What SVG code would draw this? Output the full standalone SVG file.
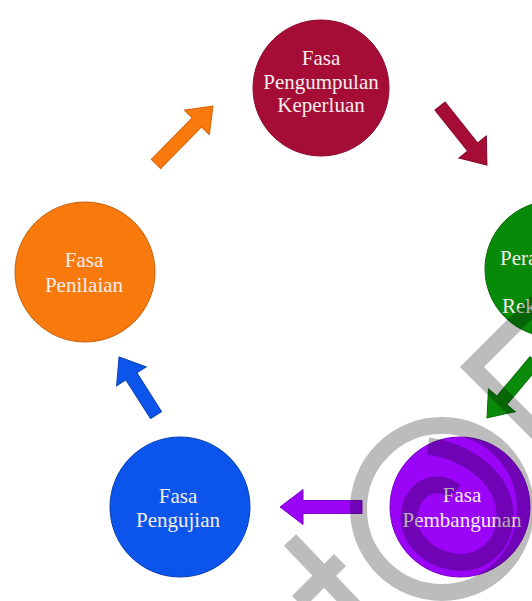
<svg xmlns="http://www.w3.org/2000/svg" width="532" height="601" viewBox="0 0 532 601">
<style>
.lbl{font-family:"Liberation Serif","Times New Roman",serif;font-size:21px;fill:#f6eeee;text-anchor:middle}
.lbs{font-family:"Liberation Serif","Times New Roman",serif;font-size:21px;fill:#f6eeee}
.arr{stroke-width:1;stroke-linejoin:miter}
.wm{fill:none;stroke:#000;stroke-width:17}
</style>
<rect width="532" height="601" fill="#ffffff"/>
<g id="connectors">
<path class="arr" fill="#f87a0c" stroke="#d8640a" transform="translate(156,164) rotate(-45.5)" d="M0,-6.5 H58.3 V-17.5 L81.3,0 L58.3,17.5 V6.5 H0 Z"/>
<path class="arr" fill="#a50d37" stroke="#880a2c" transform="translate(440,106) rotate(51.5)" d="M0,-6.5 H52.4 V-17.5 L75.4,0 L52.4,17.5 V6.5 H0 Z"/>
<path class="arr" fill="#0a8c0a" stroke="#067006" transform="translate(535,361) rotate(130.1)" d="M0,-6.5 H51.5 V-17.5 L74.5,0 L51.5,17.5 V6.5 H0 Z"/>
<path class="arr" fill="#9a05f8" stroke="#7a04c8" transform="translate(362,507) rotate(180)" d="M0,-6.5 H59 V-17.5 L82,0 L59,17.5 V6.5 H0 Z"/>
<path class="arr" fill="#0b55ec" stroke="#0a3fb0" transform="translate(156,415) rotate(-122.5)" d="M0,-6.5 H45.8 V-17.5 L68.8,0 L45.8,17.5 V6.5 H0 Z"/>
</g>
<g id="node-pengumpulan">
<circle cx="321" cy="88" r="68" fill="#a50d37" stroke="#8a0a2e" stroke-width="1"/>
<text class="lbl" x="321" y="65">Fasa</text>
<text class="lbl" x="321" y="89">Pengumpulan</text>
<text class="lbl" x="321" y="112">Keperluan</text>
</g>
<g id="node-perancangan">
<circle cx="553" cy="269" r="68" fill="#078a07" stroke="#056a05" stroke-width="1"/>
<text class="lbs" x="500" y="265">Pera</text>
<text class="lbs" x="502" y="313">Rek</text>
</g>
<g id="node-pembangunan">
<circle cx="460" cy="507" r="70" fill="#9a05f8" stroke="#7a04c8" stroke-width="1"/>
<text class="lbl" x="462" y="502">Fasa</text>
<text class="lbl" x="462" y="527">Pembangunan</text>
</g>
<g id="node-pengujian">
<circle cx="180" cy="507" r="70" fill="#0b55ec" stroke="#0a3fb0" stroke-width="1"/>
<text class="lbl" x="178" y="503">Fasa</text>
<text class="lbl" x="178" y="527">Pengujian</text>
</g>
<g id="node-penilaian">
<circle cx="85" cy="272" r="70" fill="#f87a0c" stroke="#c96010" stroke-width="1"/>
<text class="lbl" x="84" y="267">Fasa</text>
<text class="lbl" x="84" y="292">Penilaian</text>
</g>
<g id="watermark" opacity="0.26">
<circle class="wm" cx="442" cy="509" r="83.5"/>
<polyline class="wm" points="560,279 472,367 560,455" stroke-linejoin="miter"/>
<line class="wm" x1="290" y1="540" x2="355" y2="608"/>
<line class="wm" x1="298" y1="602" x2="340" y2="560"/>
<path class="wm" stroke-width="13" d="M428,446 C470,452 505,480 505,515 C505,548 480,565 455,562 C425,558 405,535 410,510 C415,485 440,478 455,492"/>
</g>
</svg>
